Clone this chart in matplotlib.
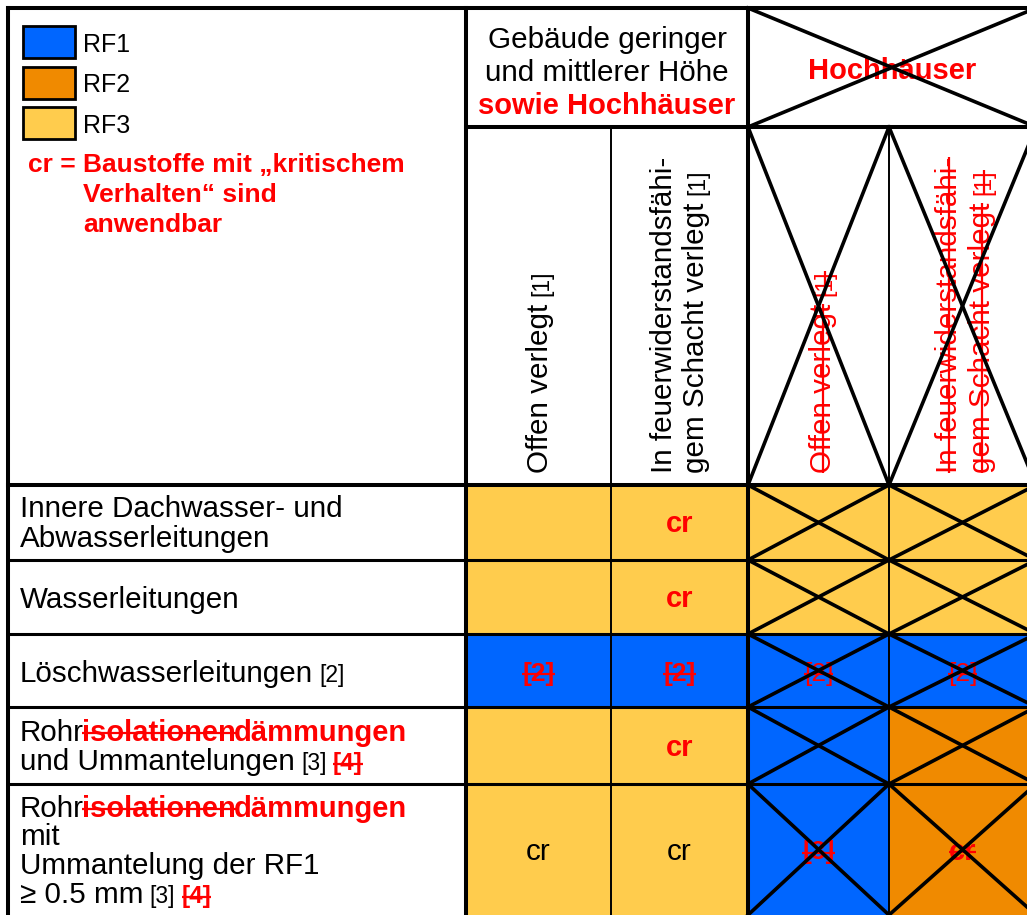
import matplotlib
matplotlib.use('Agg')
import matplotlib.pyplot as plt
from matplotlib.patches import Rectangle

plt.rcParams['font.family'] = ['Liberation Sans', 'DejaVu Sans']

# ---- data -------------------------------------------------------------
legend_names = ['RF1', 'RF2', 'RF3']
rf_colors = {1: '#0066ff', 2: '#f08a00', 3: '#ffcc4d'}
legend_note = [('cr =', 'Baustoffe mit „kritischem'),
               ('', 'Verhalten“ sind'),
               ('', 'anwendbar')]

group_low = ['Gebäude geringer', 'und mittlerer Höhe']
group_low_red = 'sowie Hochhäuser'
group_high = 'Hochhäuser'

# column headers, one list of lines per column, each line a list of runs
col_heads = [
    [[('Offen verlegt', 'n', False), ('[1]', 'ref', True)]],
    [[('In feuerwiderstandsfähi-', 'n', False)],
     [('gem Schacht verlegt', 'n', False), ('[1]', 'ref', True)]],
    [[('Offen verlegt', 'rs', False), ('[1]', 'refrs', True)]],
    [[('In feuerwiderstandsfähi-', 'rs', False)],
     [('gem Schacht verlegt', 'rs', False), ('[1]', 'refrs', True)]],
]
col_crossed = [False, False, True, True]

row_labels = [
    [[('Innere Dachwasser- und', 'n', False)],
     [('Abwasserleitungen', 'n', False)]],
    [[('Wasserleitungen', 'n', False)]],
    [[('Löschwasserleitungen', 'n', False), ('[2]', 'ref', True)]],
    [[('Rohr', 'n', False), ('isolationen', 'bs', False), ('dämmungen', 'b', False)],
     [('und Ummantelungen', 'n', False), ('[3]', 'ref', True), ('[4]', 'refbs', True)]],
    [[('Rohr', 'n', False), ('isolationen', 'bs', False), ('dämmungen', 'b', False)],
     [('mit', 'n', False)],
     [('Ummantelung der RF1', 'n', False)],
     [('≥ 0.5 mm', 'n', False), ('[3]', 'ref', True), ('[4]', 'refbs', True)]],
]

cell_rf = [[3, 3, 3, 3],
           [3, 3, 3, 3],
           [1, 1, 1, 1],
           [3, 3, 1, 2],
           [3, 3, 1, 2]]
cell_text = [['', 'cr', '', ''],
             ['', 'cr', '', ''],
             ['[2]', '[2]', '[2]', '[2]'],
             ['', 'cr', '', ''],
             ['cr', 'cr', '[3]', 'cr']]
cell_style = [['n', 'b', 'n', 'n'],
              ['n', 'b', 'n', 'n'],
              ['mbs', 'mbs', 'mrs', 'mrs'],
              ['n', 'b', 'n', 'n'],
              ['n', 'n', 'mbs', 'bs']]

# ---- styles / layout --------------------------------------------------
styles = {
    'n': dict(size=21.3, color='black', weight='normal', strike=False),
    'ref': dict(size=16.5, color='black', weight='normal', strike=False),
    'b': dict(size=21, color='#ff0000', weight='bold', strike=False),
    'bs': dict(size=21, color='#ff0000', weight='bold', strike=True),
    'refbs': dict(size=17.5, color='#ff0000', weight='bold', strike=True),
    'rs': dict(size=21.3, color='#ff0000', weight='normal', strike=True),
    'refrs': dict(size=16.5, color='#ff0000', weight='normal', strike=True),
    'mbs': dict(size=19, color='#ff0000', weight='bold', strike=True),
    'mrs': dict(size=19, color='#ff0000', weight='normal', strike=True),
    'leg': dict(size=18, color='black', weight='normal', strike=False),
    'legb': dict(size=19, color='#ff0000', weight='bold', strike=False),
}

W, H = 1027, 915
col_x = [8, 466, 611, 748, 889, 1036]
head_y = [8, 127, 485]
row_y = [485, 560, 634, 707, 784, 915]
label_x = 20
label_base = [[517, 547], [608], [682], [741, 770], [817, 845, 874, 903]]
head_base_x = [[548], [672, 704], [831], [957, 990]]
head_start_y = 473

fig = plt.figure(figsize=(W / 100, H / 100), dpi=100)
ax = fig.add_axes([0, 0, 1, 1])
ax.set_xlim(0, W)
ax.set_ylim(H, 0)
ax.axis('off')
renderer = fig.canvas.get_renderer()


def em(key):
    return styles[key]['size'] * 100 / 72


SPACE = 0.28 * em('n')


def put(x, y, text, key, vertical=False, ha='left'):
    st = styles[key]
    t = ax.text(x, y, text, fontsize=st['size'], color=st['color'],
                fontweight=st['weight'], ha=ha, va='baseline',
                rotation=90 if vertical else 0, rotation_mode='anchor', zorder=2)
    bb = t.get_window_extent(renderer).transformed(ax.transData.inverted())
    if st['strike']:
        off = 0.26 * em(key)
        if vertical:
            ax.plot([x - off, x - off], [bb.y0, bb.y1], color=st['color'],
                    lw=1.6, solid_capstyle='butt', zorder=2)
        else:
            ax.plot([bb.x0, bb.x1], [y - off, y - off], color=st['color'],
                    lw=1.6, solid_capstyle='butt', zorder=2)
    return abs(bb.height) if vertical else abs(bb.width)


def put_runs(x, y, runs, vertical=False):
    pos = y if vertical else x
    for text, key, space in runs:
        if space:
            pos += -SPACE if vertical else SPACE
        if vertical:
            w = put(x, pos, text, key, vertical=True)
            pos -= w - 1
        else:
            w = put(pos, y, text, key)
            pos += w - 2


def cross(x0, x1, y0, y1):
    ax.plot([x0, x1], [y0, y1], color='black', lw=2.6, zorder=3)
    ax.plot([x0, x1], [y1, y0], color='black', lw=2.6, zorder=3)


# ---- legend -----------------------------------------------------------
for i, name in enumerate(legend_names):
    top = 26 + i * 40.5
    ax.add_patch(Rectangle((23, top), 52, 32, facecolor=rf_colors[i + 1],
                           edgecolor='black', lw=2, zorder=2))
    put(83, top + 26, name, 'leg')
for i, (a, b) in enumerate(legend_note):
    if a:
        put(28, 172 + i * 30, a, 'legb')
    put(83, 172 + i * 30, b, 'legb')

# ---- headers ----------------------------------------------------------
cx_low = (col_x[1] + col_x[3]) / 2
for i, line in enumerate(group_low):
    put(cx_low, 48 + i * 33, line, 'n', ha='center')
put(cx_low, 114, group_low_red, 'b', ha='center')
put((col_x[3] + col_x[5]) / 2, 79, group_high, 'b', ha='center')
cross(col_x[3], col_x[5], head_y[0], head_y[1])

for c, lines in enumerate(col_heads):
    for j, runs in enumerate(lines):
        put_runs(head_base_x[c][j], head_start_y, runs, vertical=True)
    if col_crossed[c]:
        cross(col_x[c + 1], col_x[c + 2], head_y[1], head_y[2])

# ---- body -------------------------------------------------------------
for r in range(len(row_labels)):
    y0, y1 = row_y[r], row_y[r + 1]
    for j, runs in enumerate(row_labels[r]):
        put_runs(label_x, label_base[r][j], runs)
    for c in range(4):
        x0, x1 = col_x[c + 1], col_x[c + 2]
        ax.add_patch(Rectangle((x0, y0), x1 - x0, y1 - y0,
                               facecolor=rf_colors[cell_rf[r][c]],
                               edgecolor='none', zorder=1))
        if cell_text[r][c]:
            put((x0 + x1) / 2, (y0 + y1) / 2 + 10, cell_text[r][c],
                cell_style[r][c], ha='center')
        if col_crossed[c]:
            cross(x0, x1, y0, y1)

# ---- grid -------------------------------------------------------------
thick, mid, thin = 2.9, 2.2, 1.4
ax.plot([col_x[0], col_x[-1]], [head_y[0]] * 2, color='black', lw=thick, zorder=4)
ax.plot([col_x[1], col_x[-1]], [head_y[1]] * 2, color='black', lw=thick, zorder=4)
ax.plot([col_x[0], col_x[-1]], [head_y[2]] * 2, color='black', lw=thick, zorder=4)
for x in (col_x[0], col_x[1], col_x[3]):
    ax.plot([x, x], [head_y[0], row_y[-1]], color='black', lw=thick, zorder=4)
for x in (col_x[2], col_x[4]):
    ax.plot([x, x], [head_y[1], row_y[-1]], color='black', lw=thin, zorder=4)
for y in row_y[1:-1]:
    ax.plot([col_x[0], col_x[-1]], [y, y], color='black', lw=mid, zorder=4)

fig.savefig('out.png', dpi=100)
